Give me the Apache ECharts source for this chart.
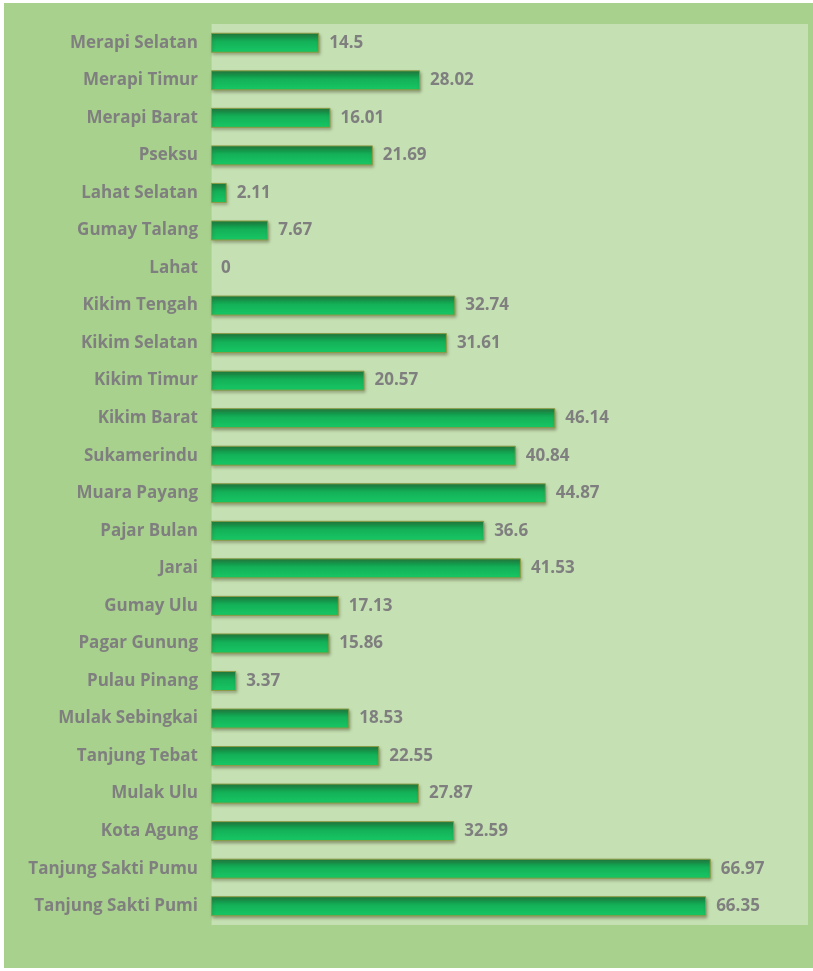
<!DOCTYPE html>
<html>
<head>
<meta charset="utf-8">
<script src="https://cdn.jsdelivr.net/npm/echarts@6/dist/echarts.min.js"></script>
<style>
  html, body { margin: 0; padding: 0; background: #ffffff; }
  #main { position: absolute; left: 4px; top: 3px; width: 809px; height: 965px; background: #a9d18e; }
</style>
</head>
<body>
<div id="main"></div>
<script>
// kecamatan, urut dari atas ke bawah
const categories = [
  'Merapi Selatan', 'Merapi Timur', 'Merapi Barat', 'Pseksu', 'Lahat Selatan',
  'Gumay Talang', 'Lahat', 'Kikim Tengah', 'Kikim Selatan', 'Kikim Timur',
  'Kikim Barat', 'Sukamerindu', 'Muara Payang', 'Pajar Bulan', 'Jarai',
  'Gumay Ulu', 'Pagar Gunung', 'Pulau Pinang', 'Mulak Sebingkai', 'Tanjung Tebat',
  'Mulak Ulu', 'Kota Agung', 'Tanjung Sakti Pumu', 'Tanjung Sakti Pumi'
]
const values = [
  14.5, 28.02, 16.01, 21.69, 2.11,
  7.67, 0, 32.74, 31.61, 20.57,
  46.14, 40.84, 44.87, 36.6, 41.53,
  17.13, 15.86, 3.37, 18.53, 22.55,
  27.87, 32.59, 66.97, 66.35
]

const chart = echarts.init(document.getElementById('main'), null, { width: 809, height: 965 })

// nilai 0 tidak digambar batangnya, hanya labelnya
const barData = values.map(v => v === 0
  ? { value: v, itemStyle: { borderWidth: 0, color: 'rgba(0,0,0,0)', shadowColor: 'rgba(0,0,0,0)' } }
  : v)

const option = {
  animation: false,
  grid: {
    left: 207,
    right: 5,
    top: 21,
    bottom: 43,
    show: true,
    backgroundColor: '#c5e0b3',
    borderWidth: 0
  },
  xAxis: {
    type: 'value',
    min: 0,
    max: 80,
    show: false
  },
  yAxis: {
    type: 'category',
    data: categories,
    inverse: true,
    axisLine: { show: true, lineStyle: { color: '#bccfb0', width: 1 } },
    axisTick: { show: false },
    axisLabel: {
      color: '#7f7f7f',
      fontSize: 17,
      fontWeight: 'bold',
      fontFamily: 'Open Sans',
      margin: 13
    }
  },
  series: [{
    type: 'bar',
    data: barData,
    barWidth: 20,
    itemStyle: {
      color: new echarts.graphic.LinearGradient(0, 0, 0, 1, [
        { offset: 0, color: '#137a3b' },
        { offset: 0.45, color: '#14b158' },
        { offset: 1, color: '#17c865' }
      ]),
      borderColor: '#8e9b45',
      borderWidth: 1,
      shadowColor: 'rgba(90, 90, 60, 0.55)',
      shadowBlur: 3,
      shadowOffsetX: 1,
      shadowOffsetY: 2
    },
    label: {
      show: true,
      position: 'right',
      distance: 10,
      color: '#7f7f7f',
      fontSize: 17,
      fontWeight: 'bold',
      fontFamily: 'Open Sans'
    }
  }]
}

chart.setOption(option)
</script>
</body>
</html>
